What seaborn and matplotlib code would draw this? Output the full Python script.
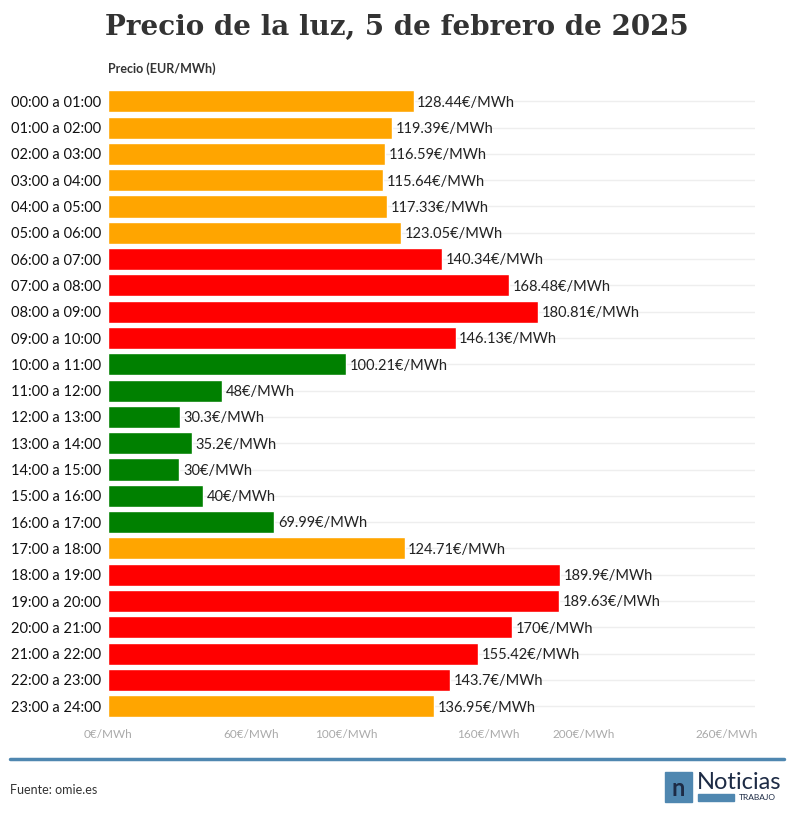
import matplotlib
matplotlib.use("Agg")
import matplotlib.pyplot as plt
import seaborn as sns
import pandas as pd
from matplotlib.patches import Rectangle

hours = [f"{h:02d}:00 a {h+1:02d}:00" for h in range(24)]
prices = [128.44,119.39,116.59,115.64,117.33,123.05,140.34,168.48,180.81,146.13,
          100.21,48,30.3,35.2,30,40,69.99,124.71,189.9,189.63,170,155.42,143.7,136.95]
labels = ["128.44","119.39","116.59","115.64","117.33","123.05","140.34","168.48","180.81","146.13",
          "100.21","48","30.3","35.2","30","40","69.99","124.71","189.9","189.63","170","155.42","143.7","136.95"]
levels = ["mid"]*6 + ["high"]*4 + ["low"]*7 + ["mid"] + ["high"]*5 + ["mid"]
palette = {"low": "#008000", "mid": "#FFA500", "high": "#FF0000"}

df = pd.DataFrame({"hour": hours, "price": prices, "level": levels})

sns.set_style("white")
plt.rcParams['font.family'] = ['Lato', 'DejaVu Sans']
fig = plt.figure(figsize=(7.94, 8.19), dpi=100)
ax = fig.add_axes([0.136, 0.120, 0.815, 0.774])
sns.barplot(data=df, x="price", y="hour", hue="level", palette=palette, dodge=False,
            legend=False, width=0.84, saturation=1, ax=ax, orient="h")
ax.set_xlim(0, 272)
ax.set_ylim(23.55, -0.55)
for i, (p, l) in enumerate(zip(prices, labels)):
    ax.text(p + 1.5, i + 0.05, f"{l}€/MWh", va="center", ha="left", fontsize=10.5, color="#222222")
for i in range(24):
    ax.axhline(i, color="#eeeeee", lw=1, zorder=0)
ax.set_xticks(range(0, 261, 20))
ax.set_xticklabels(["0€/MWh" if v == 0 else (f"{v}€/MWh" if v in (60, 100, 160, 200, 260) else "") for v in range(0, 261, 20)],
                   fontsize=8.5, color="#aaaaaa")
ax.tick_params(axis="x", length=6, color="#e0e0e0", width=1, pad=0)
ax.tick_params(axis="y", length=0, labelsize=10.5, labelcolor="#111111", pad=5)
ax.set_xlabel(""); ax.set_ylabel("")
for s in ax.spines.values():
    s.set_visible(False)

fig.text(0.5, 0.967, "Precio de la luz, 5 de febrero de 2025", ha="center", va="center",
         fontsize=20, fontweight="bold", family=["DejaVu Serif"], color="#333333")
fig.text(0.136, 0.916, "Precio (EUR/MWh)", ha="left", va="center", fontsize=9, fontweight="bold", color="#333333")
fig.add_artist(plt.Line2D([0.013, 0.987], [0.073, 0.073], color="#4f87b0", lw=2.5))
fig.text(0.013, 0.036, "Fuente: omie.es", ha="left", va="center", fontsize=9, color="#333333")
fig.add_artist(Rectangle((0.837, 0.021), 0.035, 0.036, color="#4f87b0", transform=fig.transFigure))
fig.text(0.8545, 0.037, "n", ha="center", va="center", fontsize=17, fontweight="bold", color="#1d2b45")
fig.text(0.878, 0.044, "Noticias", ha="left", va="center", fontsize=17, color="#1d2b45")
fig.add_artist(Rectangle((0.879, 0.022), 0.045, 0.008, color="#4f87b0", transform=fig.transFigure))
fig.text(0.93, 0.026, "TRABAJO", ha="left", va="center", fontsize=6, color="#1d2b45")
fig.savefig("out.png", dpi=100)
